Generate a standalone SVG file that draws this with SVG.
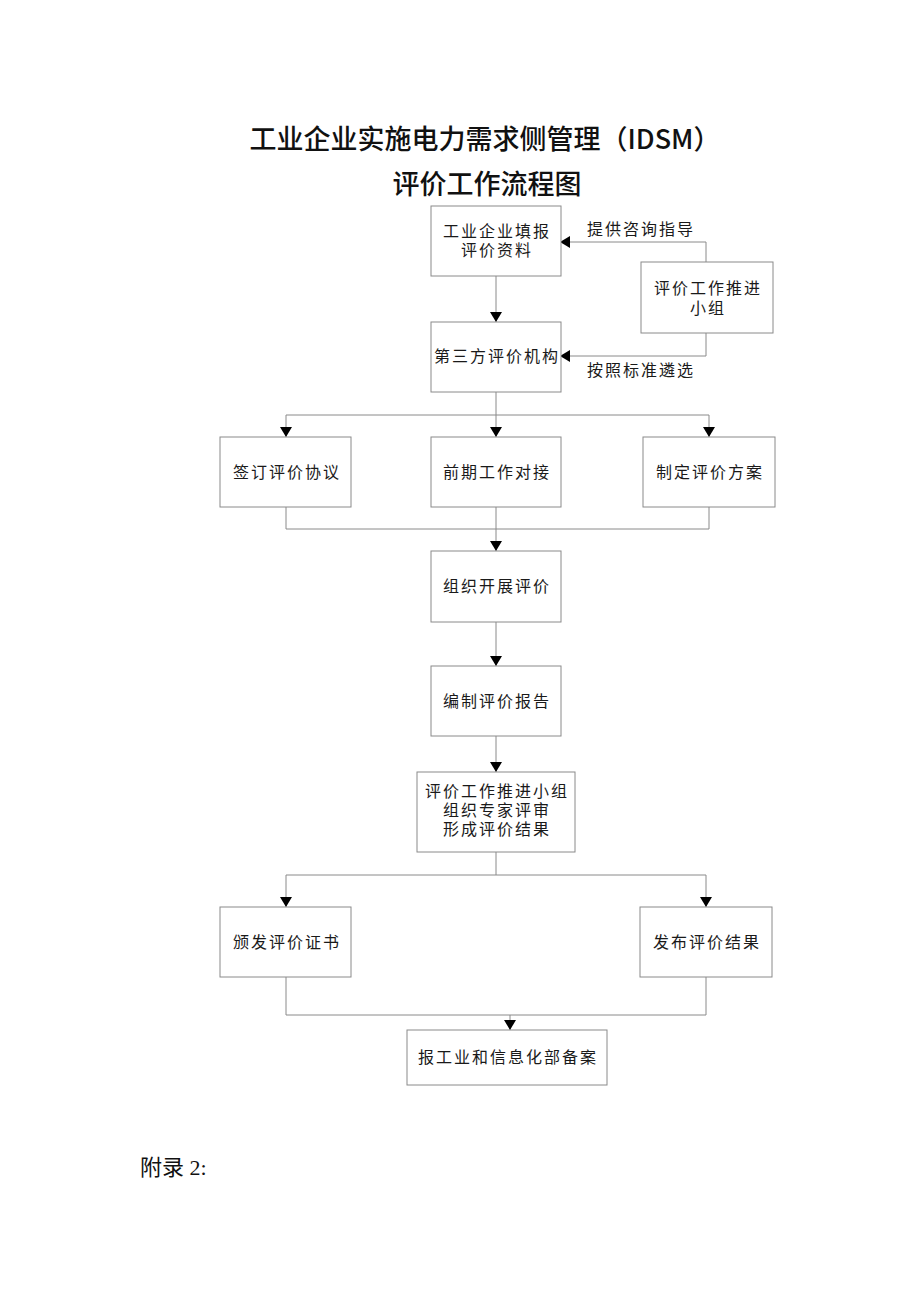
<svg xmlns="http://www.w3.org/2000/svg" width="920" height="1302" viewBox="0 0 920 1302">
<style>
.bg{fill:#ffffff}
.box{fill:#ffffff;stroke:#8a8a8a;stroke-width:1}
.ln{fill:none;stroke:#8a8a8a;stroke-width:1}
.t{font-family:"Liberation Serif","Noto Sans CJK SC",serif;font-size:16px;letter-spacing:2px;fill:#1a1a1a;text-anchor:middle}
.title{font-family:"Noto Sans CJK SC","Liberation Sans",sans-serif;font-size:27px;font-weight:500;fill:#111;text-anchor:middle}
.app{font-family:"Liberation Serif","Noto Sans CJK SC",serif;font-size:22px;fill:#111}
</style>
<defs>
<marker id="ah" markerWidth="10" markerHeight="12" refX="10" refY="6" orient="auto" markerUnits="userSpaceOnUse">
<path d="M0,0 L10,6 L0,12 z" fill="#000"/>
</marker>
</defs>
<rect class="bg" x="0" y="0" width="920" height="1302"/>
<g id="title">
<text class="title" x="485" y="149">工业企业实施电力需求侧管理（IDSM）</text>
<text class="title" x="487" y="194">评价工作流程图</text>
</g>
<g id="connectors">
<path class="ln" d="M496,276 V322" marker-end="url(#ah)"/>
<path class="ln" d="M706,262 V242 H560" marker-end="url(#ah)"/>
<path class="ln" d="M706,333 V356 H560" marker-end="url(#ah)"/>
<path class="ln" d="M496,392 V437" marker-end="url(#ah)"/>
<path class="ln" d="M496,415 H286 V437" marker-end="url(#ah)"/>
<path class="ln" d="M496,415 H709 V437" marker-end="url(#ah)"/>
<path class="ln" d="M286,507 V529 H709 V507"/>
<path class="ln" d="M496,507 V551" marker-end="url(#ah)"/>
<path class="ln" d="M496,622 V666" marker-end="url(#ah)"/>
<path class="ln" d="M496,736 V772" marker-end="url(#ah)"/>
<path class="ln" d="M496,852 V875"/>
<path class="ln" d="M496,875 H286 V907" marker-end="url(#ah)"/>
<path class="ln" d="M496,875 H706 V907" marker-end="url(#ah)"/>
<path class="ln" d="M286,977 V1015 H706 V977"/>
<path class="ln" d="M510,1015 V1030" marker-end="url(#ah)"/>
<text class="t" x="641" y="235">提供咨询指导</text>
<text class="t" x="641" y="376">按照标准遴选</text>
</g>
<g id="n1"><rect class="box" x="431" y="206" width="130" height="70"/><text class="t" x="497" y="237">工业企业填报</text><text class="t" x="497" y="256">评价资料</text></g>
<g id="n2"><rect class="box" x="641" y="262" width="132" height="71"/><text class="t" x="708" y="294">评价工作推进</text><text class="t" x="708" y="314">小组</text></g>
<g id="n3"><rect class="box" x="431" y="322" width="130" height="70"/><text class="t" x="497" y="362">第三方评价机构</text></g>
<g id="n4"><rect class="box" x="220" y="437" width="131" height="70"/><text class="t" x="287" y="478">签订评价协议</text></g>
<g id="n5"><rect class="box" x="431" y="437" width="130" height="70"/><text class="t" x="497" y="478">前期工作对接</text></g>
<g id="n6"><rect class="box" x="643" y="437" width="132" height="70"/><text class="t" x="710" y="478">制定评价方案</text></g>
<g id="n7"><rect class="box" x="431" y="551" width="130" height="71"/><text class="t" x="497" y="592">组织开展评价</text></g>
<g id="n8"><rect class="box" x="431" y="666" width="130" height="70"/><text class="t" x="497" y="707">编制评价报告</text></g>
<g id="n9"><rect class="box" x="417" y="772" width="158" height="80"/><text class="t" x="497" y="797">评价工作推进小组</text><text class="t" x="497" y="816">组织专家评审</text><text class="t" x="497" y="835">形成评价结果</text></g>
<g id="n10"><rect class="box" x="220" y="907" width="131" height="70"/><text class="t" x="287" y="948">颁发评价证书</text></g>
<g id="n11"><rect class="box" x="640" y="907" width="132" height="70"/><text class="t" x="707" y="948">发布评价结果</text></g>
<g id="n12"><rect class="box" x="407" y="1030" width="200" height="55"/><text class="t" x="508" y="1063">报工业和信息化部备案</text></g>
<g id="appendix"><text class="app" x="140" y="1175">附录 2:</text></g>
</svg>
